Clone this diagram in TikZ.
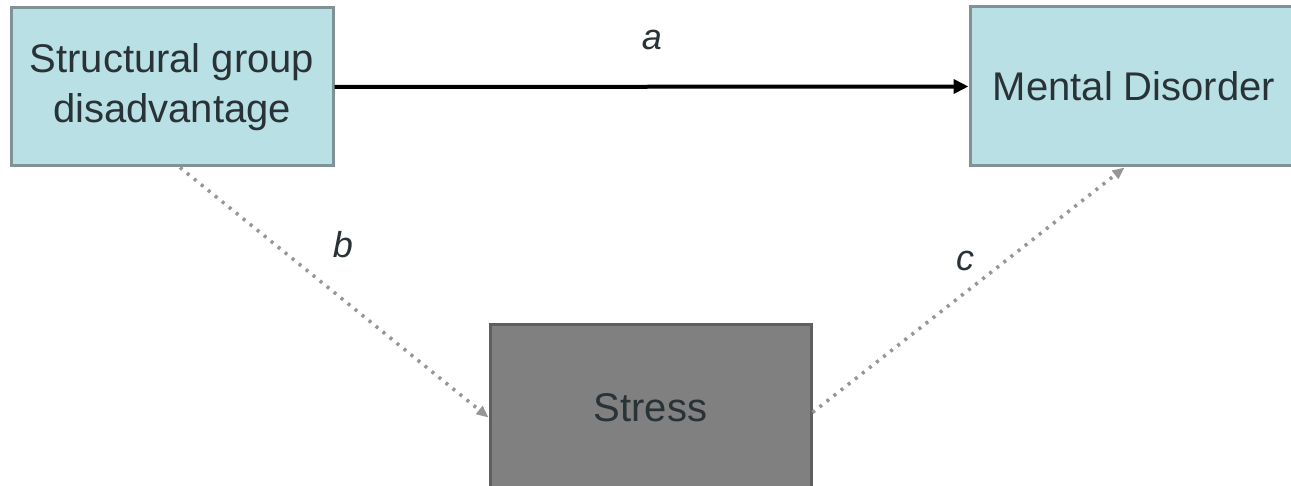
\documentclass[tikz,border=0pt]{standalone}
\usepackage{fontspec}
\setmainfont{Liberation Sans}
\usetikzlibrary{arrows.meta,calc}
\definecolor{boxcyan}{RGB}{185,224,228}
\definecolor{boxedge}{RGB}{128,146,150}
\definecolor{stressfill}{RGB}{128,128,128}
\definecolor{stressedge}{RGB}{95,95,95}
\definecolor{txt}{RGB}{40,50,55}
\definecolor{dotgrey}{RGB}{150,150,150}
\tikzset{
  cyanbox/.style={draw=boxedge, line width=3pt, fill=boxcyan, text=txt, align=center,
    font=\fontsize{40}{50}\selectfont, inner sep=0pt},
  greybox/.style={draw=stressedge, line width=3pt, fill=stressfill, text=txt, align=center,
    font=\fontsize{40}{50}\selectfont, inner sep=0pt},
  lbl/.style={text=txt, font=\fontsize{36}{40}\selectfont\itshape},
  solidarrow/.style={draw=black, line width=4pt, -{Triangle[length=15pt,width=14pt]}},
  dotarrow/.style={draw=dotgrey, line width=3.5pt, dash pattern=on 3pt off 6pt,
    -{Triangle[length=12pt,width=10pt]}}
}
\begin{document}
\begin{tikzpicture}[x=1pt,y=-1pt]
\useasboundingbox (0,0) rectangle (1291,486);
\fill[white] (0,0) rectangle (1291,486);
\node[cyanbox, minimum width=322pt, minimum height=158pt] (sgd) at (172,87) {Structural group\\disadvantage};
\node[cyanbox, minimum width=325pt, minimum height=159pt] (md) at (1132.5,86.5) {\hspace*{3pt}Mental Disorder};
\node[greybox, minimum width=321pt, minimum height=165pt] (st) at (650.5,407.5) {Stress};
\coordinate (bs) at ($(sgd.south)+(8pt,0)$);
\coordinate (be) at ($(st.west)+(0,-10pt)$);
\coordinate (cs) at ($(st.east)+(0,-5pt)$);
\coordinate (ce) at ($(md.south)+(-8pt,0)$);
\draw[solidarrow] (sgd.east) -- (md.west);
\draw[dotarrow] (bs) -- (be);
\draw[dotarrow] (cs) -- (ce);
\node[lbl] (la) at (652,40) {a};
\node[lbl] (lb) at (343,245) {b};
\node[lbl] (lc) at (965,261) {c};
\end{tikzpicture}
\end{document}
